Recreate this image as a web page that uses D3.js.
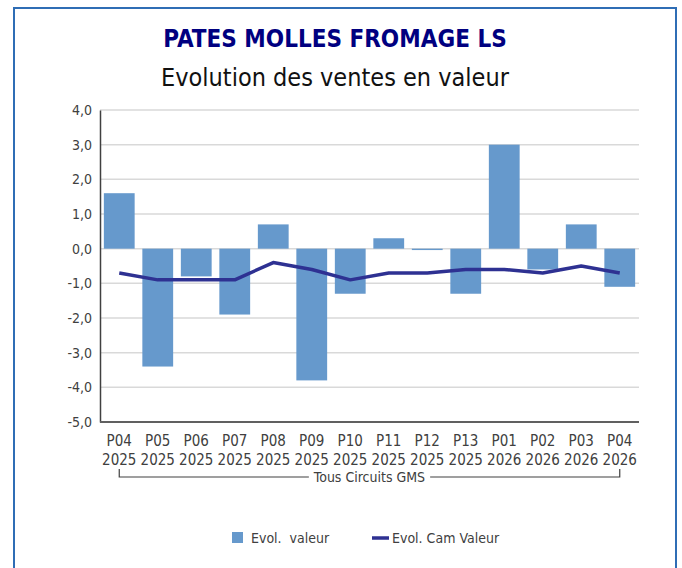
<!DOCTYPE html>
<html>
<head>
<meta charset="utf-8">
<script src="https://cdn.jsdelivr.net/npm/d3@7"></script>
<style>
  body { margin: 0; background: #fff; }
  svg { display: block; }
  text { font-family: "Liberation Sans Narrow", "DejaVu Sans Condensed", Roboto, sans-serif; }
</style>
</head>
<body>
<div id="chart"></div>
<script>
// periods, two lines each
const periods = ["P04", "P05", "P06", "P07", "P08", "P09", "P10", "P11", "P12", "P13", "P01", "P02", "P03", "P04"];
const years = ["2025", "2025", "2025", "2025", "2025", "2025", "2025", "2025", "2025", "2025", "2026", "2026", "2026", "2026"];
// bars: Evol. valeur
const evolValeur = [1.6, -3.4, -0.8, -1.9, 0.7, -3.8, -1.3, 0.3, -0.04, -1.3, 3.0, -0.6, 0.7, -1.1];
// line: Evol. Cam Valeur
const evolCam = [-0.7, -0.9, -0.9, -0.9, -0.4, -0.6, -0.9, -0.7, -0.7, -0.6, -0.6, -0.7, -0.5, -0.7];
const yTicks = [4, 3, 2, 1, 0, -1, -2, -3, -4, -5];

const width = 682, height = 568;
const margin = { left: 100, right: 43, top: 110, bottom: 146 };

const svg = d3.select("#chart").append("svg")
    .attr("width", width)
    .attr("height", height);

// outer frame
svg.append("rect")
    .attr("x", 14).attr("y", 8)
    .attr("width", 662).attr("height", 620)
    .attr("fill", "none")
    .attr("stroke", "#2F6DB5")
    .attr("stroke-width", 2);

// titles
svg.append("text")
    .attr("x", 335).attr("y", 47)
    .attr("text-anchor", "middle")
    .attr("font-size", "24px")
    .attr("font-weight", "bold")
    .attr("fill", "#000080")
    .text("PATES MOLLES FROMAGE LS");

svg.append("text")
    .attr("x", 335).attr("y", 86)
    .attr("text-anchor", "middle")
    .attr("font-size", "25px")
    .attr("fill", "#111")
    .text("Evolution des ventes en valeur");

const x = d3.scaleBand()
    .domain(d3.range(periods.length))
    .range([margin.left, width - margin.right])
    .paddingInner(0.2)
    .paddingOuter(0.1);

const y = d3.scaleLinear()
    .domain([-5, 4])
    .range([height - margin.bottom, margin.top]);

// gridlines
svg.append("g")
    .selectAll("line")
    .data(yTicks)
    .join("line")
    .attr("x1", margin.left)
    .attr("x2", width - margin.right)
    .attr("y1", d => y(d))
    .attr("y2", d => y(d))
    .attr("stroke", "#d9d9d9")
    .attr("stroke-width", 1.5);

// y axis, hyphen minus and decimal comma like the source
const yAxis = svg.append("g")
    .attr("transform", `translate(${margin.left},0)`)
    .call(d3.axisLeft(y).tickValues(yTicks).tickSize(0).tickPadding(8)
        .tickFormat(d => d.toFixed(1).replace(".", ",")));
yAxis.select(".domain").attr("stroke", "#404040").attr("stroke-width", 1.5);
yAxis.selectAll("text").attr("font-size", "14px").attr("fill", "#404040")
    .style("font-family", "\"Liberation Sans Narrow\", \"DejaVu Sans Condensed\", sans-serif");

// bars
svg.append("g")
    .selectAll("rect")
    .data(evolValeur)
    .join("rect")
    .attr("x", (d, i) => x(i))
    .attr("width", x.bandwidth())
    .attr("y", d => y(Math.max(0, d)))
    .attr("height", d => Math.abs(y(d) - y(0)))
    .attr("fill", "#6699CC");

// x axis baseline
svg.append("line")
    .attr("x1", margin.left).attr("x2", width - margin.right)
    .attr("y1", y(-5)).attr("y2", y(-5))
    .attr("stroke", "#606060")
    .attr("stroke-width", 2);

// line series
const line = d3.line()
    .x((d, i) => x(i) + x.bandwidth() / 2)
    .y(d => y(d));

svg.append("path")
    .datum(evolCam)
    .attr("d", line)
    .attr("fill", "none")
    .attr("stroke", "#2E3192")
    .attr("stroke-width", 3.5)
    .attr("stroke-linejoin", "round");

// x labels
const xl = svg.append("g");
periods.forEach((p, i) => {
    const cx = x(i) + x.bandwidth() / 2;
    const t = xl.append("text")
        .attr("x", cx)
        .attr("text-anchor", "middle")
        .attr("font-size", "15px")
        .attr("fill", "#404040");
    t.append("tspan").attr("x", cx).attr("y", 446).text(p);
    t.append("tspan").attr("x", cx).attr("y", 465).text(years[i]);
});

// group bracket
const bx0 = x(0) + x.bandwidth() / 2;
const bx1 = x(periods.length - 1) + x.bandwidth() / 2;
const by = 477;
const groupLabel = "Tous Circuits GMS";
const gl = svg.append("text")
    .attr("x", (bx0 + bx1) / 2)
    .attr("y", by + 5)
    .attr("text-anchor", "middle")
    .attr("font-size", "14px")
    .attr("fill", "#404040")
    .text(groupLabel);
const gw = gl.node().getComputedTextLength() / 2 + 5;
const mid = (bx0 + bx1) / 2;
svg.append("path")
    .attr("d", `M${bx0},${by - 8}V${by}H${mid - gw}M${mid + gw},${by}H${bx1}V${by - 8}`)
    .attr("fill", "none")
    .attr("stroke", "#404040")
    .attr("stroke-width", 1.2);

// legend
const lg = svg.append("g").attr("transform", "translate(232,538)");
lg.append("rect")
    .attr("x", 0).attr("y", -6)
    .attr("width", 11).attr("height", 11)
    .attr("fill", "#6699CC");
lg.append("text")
    .attr("x", 19).attr("y", 5)
    .attr("font-size", "14px")
    .attr("fill", "#404040")
    .attr("xml:space", "preserve")
    .text("Evol.  valeur");
lg.append("line")
    .attr("x1", 140).attr("x2", 157)
    .attr("y1", 0).attr("y2", 0)
    .attr("stroke", "#2E3192")
    .attr("stroke-width", 3.5);
lg.append("text")
    .attr("x", 160).attr("y", 5)
    .attr("font-size", "14px")
    .attr("fill", "#404040")
    .text("Evol. Cam Valeur");
</script>
</body>
</html>
